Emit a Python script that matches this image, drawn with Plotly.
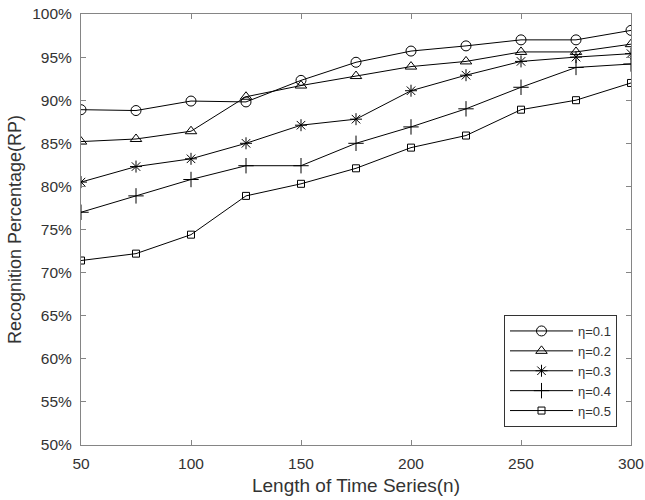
import plotly.graph_objects as go

n_values = [50, 75, 100, 125, 150, 175, 200, 225, 250, 275, 300]
rp_eta01 = [88.9, 88.8, 89.9, 89.8, 92.3, 94.4, 95.7, 96.3, 97.0, 97.0, 98.1]
rp_eta02 = [85.2, 85.5, 86.4, 90.4, 91.7, 92.8, 93.9, 94.5, 95.6, 95.6, 96.5]
rp_eta03 = [80.5, 82.3, 83.2, 85.0, 87.1, 87.8, 91.1, 92.9, 94.5, 95.0, 95.4]
rp_eta04 = [77.0, 78.9, 80.8, 82.4, 82.4, 85.0, 86.9, 89.0, 91.5, 93.8, 94.2]
rp_eta05 = [71.4, 72.2, 74.4, 78.9, 80.3, 82.1, 84.5, 85.9, 88.9, 90.0, 92.0]
series_names = ["η=0.1", "η=0.2", "η=0.3", "η=0.4", "η=0.5"]
x_ticks = [50, 100, 150, 200, 250, 300]
y_ticks = [50, 55, 60, 65, 70, 75, 80, 85, 90, 95, 100]
y_tick_labels = [f"{v}%" for v in y_ticks]

series = [rp_eta01, rp_eta02, rp_eta03, rp_eta04, rp_eta05]
symbols = ["circle-open", "triangle-up-open", "asterisk-open", "cross-thin-open", "square-open"]
sizes = [10, 10, 10, 11, 7]

fig = go.Figure()
for name, vals, sym, sz in zip(series_names, series, symbols, sizes):
    fig.add_trace(go.Scatter(
        x=n_values, y=vals, name=name, mode="lines+markers",
        line=dict(color="black", width=1),
        marker=dict(symbol=sym, size=sz, color="black", line=dict(color="black", width=1)),
    ))

axis_common = dict(
    showline=True, linecolor="#858585", linewidth=1, mirror="ticks",
    ticks="inside", ticklen=5, tickcolor="#858585", showgrid=False, zeroline=False,
    automargin=False,
    tickfont=dict(family="Liberation Sans, Arial", size=15.5, color="#333333"),
)

fig.update_layout(
    width=645, height=500,
    margin=dict(l=81, r=14, t=14, b=55),
    plot_bgcolor="white", paper_bgcolor="white",
    font=dict(family="Liberation Sans, Arial", color="#333333"),
    xaxis=dict(range=[50, 300], tickvals=x_ticks, ticktext=[str(v) for v in x_ticks],
               ticklabelstandoff=4,
               title=dict(text="Length of Time Series(n)", font=dict(size=19), standoff=8),
               **axis_common),
    yaxis=dict(range=[50, 100], tickvals=y_ticks, ticktext=y_tick_labels,
               ticklabelstandoff=5,
               title=dict(text="Recognition Percentage(RP)", font=dict(size=18), standoff=5),
               **axis_common),
    legend=dict(x=(617 - 81) / 550, y=(445 - 427) / 431, xanchor="right", yanchor="bottom",
                bordercolor="#333333", borderwidth=1, bgcolor="white",
                font=dict(size=13, color="#333333"), tracegroupgap=0,
                itemwidth=63),
    showlegend=True,
)

fig.write_html("out.html", config={"displayModeBar": False},
               post_script="document.body.style.margin='0';")
